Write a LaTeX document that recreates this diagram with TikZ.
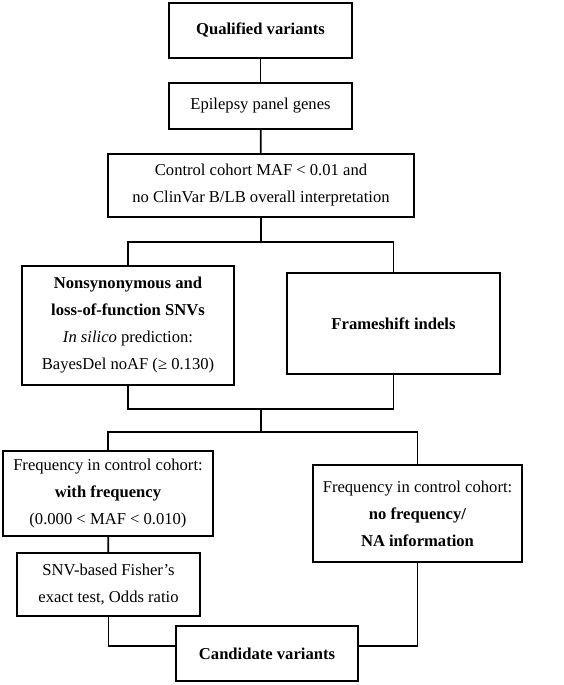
\documentclass[tikz,border=0pt]{standalone}
\usepackage{fontspec}
\setmainfont{Liberation Serif}
\begin{document}
\begin{tikzpicture}[x=1pt,y=-1pt,
  box/.style={draw,line width=1.8pt,align=center,inner sep=0pt,
    font=\fontsize{16.6}{27}\selectfont},
  conn/.style={line width=1.8pt}]
\useasboundingbox (0,0) rectangle (563,685);
\node[box,minimum width=183,minimum height=55] (qual) at (260.5,30.5) {\textbf{Qualified variants}};
\node[box,minimum width=183,minimum height=46] (epi) at (260.5,106) {Epilepsy panel genes};
\node[box,minimum width=306,minimum height=63] (ctrl) at (261,185.5) {Control cohort MAF < 0.01 and\\no ClinVar B/LB overall interpretation};
\node[box,minimum width=212,minimum height=119] (nonsyn) at (128,325.5) {\textbf{Nonsynonymous and}\\\textbf{loss-of-function SNVs}\\\textit{In silico} prediction:\\BayesDel noAF (≥ 0.130)};
\node[box,minimum width=213,minimum height=101] (frame) at (393.5,323.5) {\textbf{Frameshift indels}};
\node[box,minimum width=210,minimum height=85] (withf) at (108,493.5) {Frequency in control cohort:\\\textbf{with frequency}\\(0.000 < MAF < 0.010)};
\node[box,minimum width=209,minimum height=97] (nof) at (417.5,513.5) {Frequency in control cohort:\\\textbf{no frequency/}\\\textbf{NA information}};
\node[box,minimum width=183,minimum height=63] (snv) at (108.5,584.5) {SNV-based Fisher’s\\exact test, Odds ratio};
\node[box,minimum width=182,minimum height=55] (cand) at (267,653.5) {\textbf{Candidate variants}};
\coordinate (split1) at (261,242);
\coordinate (merge1) at (261,409);
\coordinate (split2) at (261,432);
\coordinate (candL) at (176,646);
\coordinate (candR) at (358,646);
\draw[conn] (qual) -- (epi);
\draw[conn] (epi) -- (ctrl);
\draw[conn] (ctrl) -- (split1);
\draw[conn] (split1) -| (nonsyn.north);
\draw[conn] (split1) -| (frame.north);
\draw[conn] (nonsyn.south) |- (merge1);
\draw[conn] (frame.south) |- (merge1);
\draw[conn] (merge1) -- (split2);
\draw[conn] (split2) -| (withf.north);
\draw[conn] (split2) -| (nof.north);
\draw[conn] (withf) -- (snv);
\draw[conn] (snv.south) |- (candL);
\draw[conn] (nof.south) |- (candR);
\end{tikzpicture}
\end{document}
